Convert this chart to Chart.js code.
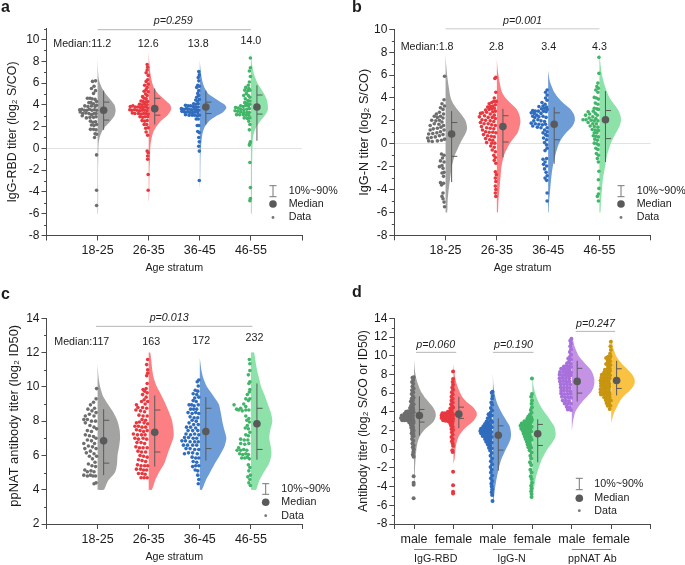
<!DOCTYPE html>
<html>
<head>
<meta charset="utf-8">
<title>Antibody titers</title>
<script src="https://cdn.jsdelivr.net/npm/chart.js@4"></script>
<style>
  html, body { margin: 0; padding: 0; background: #fff; }
  #page { position: relative; width: 685px; height: 565px; overflow: hidden; }
  canvas { position: absolute; }
</style>
</head>
<body>
<div id="page">
  <canvas id="chartA" width="343" height="282" style="left:0;top:0;width:343px;height:282px"></canvas>
  <canvas id="chartB" width="342" height="282" style="left:343px;top:0;width:342px;height:282px"></canvas>
  <canvas id="chartC" width="343" height="283" style="left:0;top:282px;width:343px;height:283px"></canvas>
  <canvas id="chartD" width="342" height="283" style="left:343px;top:282px;width:342px;height:283px"></canvas>
</div>
<script>
// ==================== data ====================
const ageStrata = ['18-25', '26-35', '36-45', '46-55'];
const sexLabels = ['male', 'female', 'male', 'female', 'male', 'female'];
const groupLabels = ['IgG-RBD', 'IgG-N', 'ppNAT Ab'];

const mediansA = [3.5, 3.65, 3.8, 3.8];
const p10A = [1.7, 2.2, 2.2, 0.7];
const p90A = [5.3, 5.5, 5.3, 5.8];
const q1A = [2.6, 3.05, 3.2, 3.15];
const q3A = [4.25, 4.6, 4.25, 4.9];
const medianTextA = ['Median:11.2', '12.6', '13.8', '14.0'];

const mediansB = [0.85, 1.5, 1.7, 2.1];
const p10B = [-3.35, -1.2, -1.75, -1.6];
const p90B = [2.85, 3.05, 3.2, 4.6];
const q1B = [-1.1, 0.15, 0.35, 0.45];
const q3B = [1.85, 2.45, 2.7, 2.9];
const medianTextB = ['Median:1.8', '2.8', '3.4', '4.3'];

const mediansC = [6.85, 7.35, 7.4, 7.85];
const p10C = [4.85, 5.35, 5.7, 5.75];
const p90C = [8.7, 9.5, 9.4, 10.2];
const q1C = [5.55, 6.2, 6.4, 6.35];
const q3C = [8.05, 8.65, 8.75, 8.75];
const medianTextC = ['Median:117', '163', '172', '232'];

const mediansD = [3.6, 3.75, 1.5, 1.65, 7.25, 7.35];
const p10D = [1.45, 2.25, -2.3, -1.4, 5.1, 5.75];
const p90D = [5.65, 5.6, 3.3, 3.2, 9.45, 9.45];
const q1D = [2.9, 3.3, -0.1, 0.4, 6, 6.5];
const q3D = [4.25, 4.5, 2.5, 2.65, 8.65, 8.6];

// violin outlines: titer, half width (in category units), top to bottom
const shapeA1 = [8.2,0,7,.01,6.2,.03,5.5,.09,5,.16,4.5,.25,4,.33,3.5,.353,3,.33,2.5,.25,2,.15,1.5,.08,1,.04,.5,.02,0,.015,-1,.012,-2,.008,-3,.008,-4,.01,-5,.01,-6,.008];
const shapeA2 = [8.9,0,8,.01,7,.03,6,.07,5.5,.11,5,.19,4.5,.31,4,.42,3.6,.44,3,.36,2.5,.23,2,.15,1.5,.09,1,.06,.5,.04,0,.03,-1,.025,-2,.015,-3,.012,-4,.01,-4.8,.005];
const shapeA3 = [8.1,0,7,.02,6,.06,5.5,.1,5,.17,4.5,.33,4,.49,3.7,.52,3.3,.45,3,.33,2.5,.18,2,.1,1.5,.06,1,.04,0,.02,-1,.012,-2,.01,-3,.008,-3.8,0];
const shapeA4 = [9,0,8,.015,7,.05,6,.13,5,.26,4.5,.31,4,.33,3.5,.33,3,.27,2.5,.18,2,.11,1.5,.065,1,.04,0,.03,-1,.025,-2,.02,-3,.02,-4,.02,-5,.018,-6,.015];
const shapeB1 = [7.8,0,7,.01,6,.03,5,.06,4,.1,3.5,.15,3,.23,2.5,.32,2,.39,1.4,.42,1,.4,.5,.34,0,.28,-.5,.23,-1,.18,-2,.12,-3,.09,-4,.06,-5,.04,-6,.03];
const shapeB2 = [7.4,0,6.5,.015,6,.03,5,.07,4.5,.1,4,.17,3.5,.28,3,.39,2.5,.44,1.9,.46,1,.41,.5,.33,0,.25,-.5,.19,-1,.14,-2,.09,-3,.07,-4,.05,-5,.03,-6,.02];
const shapeB3 = [6.4,0,5.5,.03,5,.07,4.5,.12,4,.2,3.5,.31,3,.44,2.5,.51,2,.52,1.5,.47,1,.36,.5,.27,0,.21,-.5,.17,-1,.14,-2,.09,-3,.06,-4,.04,-5,.02,-6,.01];
const shapeB4 = [8,0,7,.02,6,.05,5,.11,4,.2,3.5,.28,3,.36,2.5,.41,2,.42,1.5,.39,1,.33,.5,.27,0,.22,-1,.15,-2,.11,-3,.07,-4,.05,-5,.03,-6,.02];
const shapeC1 = [11.3,0,10.5,.02,10,.05,9.5,.1,9,.2,8.5,.31,8,.39,7.5,.43,7,.44,6.5,.42,6,.39,5.5,.38,5,.34,4.5,.2,4,.12];
const shapeC2 = [12,.03,11,.07,10.5,.1,10,.16,9.5,.25,9,.33,8.5,.4,8,.46,7.3,.49,7,.48,6.5,.42,6,.36,5.5,.3,5,.2,4.5,.12,4,.06];
const shapeC3 = [11.7,0,11,.03,10.5,.07,10,.14,9.5,.26,9,.37,8.5,.41,8,.44,7.5,.48,7,.52,6.5,.48,6,.39,5.5,.29,5,.2,4.5,.11,4,.04];
const shapeC4 = [12,.06,11.5,.09,11,.12,10.5,.16,10,.2,9.5,.27,9,.33,8.5,.39,8,.42,7.5,.38,7,.36,6.5,.39,6,.4,5.5,.35,5,.25,4.5,.16,4,.1];
const shapeD1 = [9.6,0,8.5,.02,7.5,.06,6.5,.14,6,.2,5.5,.28,5,.38,4.5,.48,4,.54,3.5,.55,3,.5,2.5,.38,2,.25,1.5,.16,1,.11,.5,.08,0,.06,-1,.04,-2,.025,-3,.015,-4,0];
const shapeD2 = [9.1,0,8,.03,7,.08,6,.17,5.5,.24,5,.35,4.5,.5,4,.58,3.6,.59,3,.5,2.5,.36,2,.24,1.5,.15,1,.1,.5,.07,0,.05,-1,.03,-1.6,0];
const shapeD3 = [8.2,0,7,.01,6,.04,5,.1,4,.21,3,.35,2.5,.42,2,.45,1.5,.46,1,.44,.5,.39,0,.33,-1,.22,-2,.15,-3,.1,-4,.06,-5,.03,-6,0];
const shapeD4 = [7.9,0,7,.02,6,.07,5,.16,4,.3,3.5,.39,3,.47,2.5,.55,2,.58,1.5,.59,1,.55,.5,.47,0,.38,-1,.25,-2,.16,-3,.09,-4,.05,-5,0];
const shapeD5 = [12,0,11.5,.04,11,.07,10,.17,9.5,.27,9,.37,8.5,.48,8,.54,7.5,.57,7,.57,6.5,.54,6,.47,5.5,.36,5,.25,4.5,.16,4,.09,3,.03,1.9,0];
const shapeD6 = [12,0,11,.04,10,.12,9.5,.2,9,.3,8.5,.42,8,.53,7.5,.59,7,.59,6.5,.52,6,.4,5.5,.28,5,.2,4.5,.14,4,.08,3.5,.04,2.8,0];

// data dots: offset left of the category, titer, offset, titer ...
const dotsA1 = [-.04,6.2,-.1,6.15,-.07,5.7,-.12,5.5,-.04,5.3,-.08,5.05,-.15,4.6,-.2,4.6,-.11,4.55,-.05,4.5,-.02,4.3,-.17,4.2,-.13,4.2,-.08,4.1,-.25,3.9,-.19,3.85,-.12,3.9,-.05,3.85,-.02,3.95,-.35,3.55,-.31,3.6,-.26,3.5,-.21,3.5,-.16,3.6,-.11,3.5,-.06,3.55,-.02,3.5,-.34,3.35,-.29,3.2,-.23,3.25,-.17,3.2,-.12,3.1,-.07,3.2,-.03,3.2,-.3,3,-.22,2.8,-.15,2.85,-.08,2.85,-.03,2.9,-.14,2.5,-.09,2.4,-.04,2.45,-.12,2.15,-.07,2.1,-.02,2.2,-.14,1.75,-.08,1.75,-.03,1.7,-.05,1.35,-.02,1.3,-.06,1,-.02,-.6,-.02,-3.85,-.02,-5.25];
const dotsA2 = [-.03,7.7,-.02,7.45,-.03,7.2,-.05,6.95,-.01,6.7,-.02,6.3,-.05,6.15,-.01,5.9,-.08,5.8,-.03,5.6,-.05,5.4,-.09,5.25,-.01,5.2,-.06,5,-.03,4.85,-.12,4.75,-.09,4.6,-.05,4.55,-.15,4.35,-.11,4.3,-.06,4.25,-.02,4.3,-.18,4.05,-.13,4,-.08,4.05,-.03,4,-.36,3.85,-.31,3.9,-.26,3.8,-.21,3.8,-.16,3.75,-.11,3.75,-.06,3.8,-.02,3.7,-.37,3.55,-.33,3.5,-.28,3.55,-.23,3.5,-.18,3.45,-.13,3.5,-.08,3.5,-.03,3.45,-.32,3.25,-.27,3.2,-.2,3.2,-.15,3.15,-.1,3.2,-.05,3.2,-.01,3.15,-.17,2.9,-.12,2.85,-.07,2.9,-.02,2.9,-.13,2.55,-.08,2.5,-.03,2.55,-.09,2.2,-.04,2.2,-.06,1.85,-.01,1.9,-.05,1.5,-.02,1.2,-.03,-.25,-.01,-.4,-.02,-.7,-.02,-1,-.01,-2.4,-.01,-3.85];
const dotsA3 = [-.02,7.05,-.01,6.75,-.03,6.5,-.02,6.2,-.04,5.8,-.01,5.7,-.06,5.6,-.02,5.3,-.04,5.05,-.02,4.85,-.06,4.7,-.01,4.5,-.08,4.45,-.04,4.3,-.12,4.1,-.08,4.05,-.03,4.1,-.28,3.95,-.23,3.9,-.18,3.9,-.13,3.85,-.08,3.8,-.03,3.8,-.36,3.65,-.31,3.6,-.26,3.65,-.21,3.6,-.16,3.55,-.11,3.6,-.06,3.55,-.02,3.5,-.35,3.4,-.3,3.35,-.24,3.35,-.19,3.3,-.14,3.3,-.09,3.35,-.04,3.3,-.28,3.1,-.21,3.05,-.15,3.05,-.1,3.05,-.05,3,-.01,3.05,-.07,2.7,-.03,2.7,-.05,2.1,-.02,2.1,-.04,1.55,-.01,1.45,-.02,1,-.01,.6,-.02,.2,-.01,-.25,-.01,-2.95];
const dotsA4 = [-.01,8.3,-.01,7.4,-.03,7.1,-.01,6.6,-.03,6.1,-.05,5.8,-.1,5.6,-.04,5.5,-.12,5.35,-.06,5.3,-.02,5.35,-.09,5.05,-.14,4.85,-.05,4.85,-.02,4.7,-.11,4.55,-.06,4.4,-.02,4.35,-.12,4.2,-.07,4.15,-.02,4.05,-.2,3.9,-.15,3.85,-.1,3.95,-.05,3.9,-.3,3.75,-.25,3.7,-.2,3.6,-.14,3.55,-.08,3.6,-.03,3.65,-.31,3.45,-.26,3.4,-.2,3.35,-.14,3.3,-.08,3.3,-.03,3.3,-.28,3.1,-.22,3.1,-.15,3.1,-.09,3.05,-.04,3.05,-.13,2.8,-.07,2.75,-.02,2.8,-.04,2.5,-.02,2.2,-.03,1.7,-.01,.6,-.02,.45,-.03,.3,-.02,-1.3,-.01,-3.6,-.01,-4.6,-.02,-4.8];
const dotsB1 = [-.02,5.9,-.03,3.85,-.07,3.5,-.02,3.3,-.1,3.15,-.05,3,-.12,2.75,-.18,2.6,-.04,2.6,-.1,2.4,-.16,2.3,-.22,2.4,-.05,2.25,-.12,2.05,-.19,2,-.27,2.05,-.07,1.9,-.13,1.7,-.22,1.75,-.3,1.6,-.04,1.6,-.09,1.45,-.16,1.35,-.24,1.3,-.3,1.2,-.03,1.2,-.1,1.05,-.17,.95,-.25,.9,-.33,.85,-.05,.8,-.12,.7,-.2,.6,-.28,.55,-.35,.5,-.02,.4,-.08,.3,-.16,.25,-.26,.2,-.33,.25,-.08,-.9,-.03,-1,-.06,-1.25,-.1,-1.5,-.03,-1.6,-.07,-1.9,-.12,-2,-.05,-2.15,-.03,-2.5,-.07,-2.55,-.04,-2.85,-.1,-3.4,-.06,-3.5,-.04,-3.45,-.08,-3.6,-.05,-4.3,-.07,-4.6,-.05,-4.8,-.03,-5.1,-.02,-5.5];
const dotsB2 = [-.02,5.8,-.04,5.7,-.02,4.5,-.05,4,-.01,3.7,-.06,3.7,-.1,3.6,-.15,3.5,-.03,3.4,-.08,3.3,-.13,3.25,-.18,3.2,-.05,3.1,-.1,3.05,-.15,3,-.22,2.95,-.03,2.85,-.08,2.8,-.2,2.75,-.28,2.7,-.32,2.65,-.13,2.6,-.05,2.5,-.24,2.45,-.34,2.35,-.17,2.3,-.09,2.3,-.03,2.2,-.29,2.1,-.22,2.05,-.13,2,-.06,1.95,-.32,1.85,-.25,1.75,-.17,1.75,-.1,1.65,-.03,1.6,-.3,1.5,-.2,1.4,-.13,1.35,-.06,1.3,-.28,1.2,-.22,1.05,-.15,1,-.08,1,-.02,.95,-.26,.8,-.18,.7,-.11,.65,-.05,.6,-.22,.45,-.14,.35,-.08,.3,-.2,.1,-.1,.05,-.04,.05,-.12,-.2,-.05,-.3,-.09,-.55,-.03,-.7,-.06,-1,-.03,-1.2,-.05,-1.45,-.02,-1.7,-.03,-2.45,-.01,-2.7,-.03,-3,-.02,-3.3,-.03,-3.7,-.02,-4,-.03,-4.3,-.02,-4.6];
const dotsB3 = [-.02,4.7,-.05,4.5,-.02,4.25,-.05,4,-.02,3.8,-.12,3.6,-.06,3.45,-.1,3.3,-.18,3.25,-.03,3.2,-.07,3.1,-.13,3.05,-.02,3,-.3,2.9,-.25,2.85,-.19,2.85,-.09,2.85,-.04,2.8,-.33,2.7,-.27,2.65,-.14,2.65,-.22,2.5,-.3,2.4,-.26,2.3,-.18,2.35,-.1,2.4,-.04,2.3,-.2,2.1,-.28,2,-.14,2,-.07,1.95,-.33,1.8,-.25,1.75,-.18,1.7,-.11,1.65,-.05,1.7,-.3,1.55,-.21,1.45,-.14,1.4,-.02,1.4,-.07,1.2,-.02,1.05,-.1,.95,-.05,.8,-.02,.7,-.09,.5,-.03,.35,-.07,.1,-.03,-.1,-.02,-.4,-.06,-.6,-.03,-1.3,-.1,-1.35,-.06,-1.6,-.09,-1.8,-.03,-1.95,-.07,-2.2,-.04,-2.5,-.02,-2.8,-.06,-3,-.03,-3.2,-.02,-4.3,-.02,-5];
const dotsB4 = [-.01,7.55,-.01,6.15,-.03,5.3,-.05,5,-.02,4.85,-.07,4.7,-.03,4.5,-.1,4.05,-.06,4,-.02,3.9,-.08,3.55,-.03,3.45,-.1,3.1,-.05,3.05,-.02,3,-.12,2.85,-.22,2.8,-.08,2.65,-.19,2.6,-.27,2.5,-.04,2.5,-.13,2.35,-.2,2.25,-.07,2.2,-.32,2.1,-.26,2.1,-.16,2.05,-.1,2,-.03,2,-.22,1.85,-.13,1.75,-.06,1.75,-.18,1.55,-.1,1.5,-.03,1.45,-.14,1.25,-.08,1.2,-.02,1.15,-.1,.95,-.05,.95,-.12,.7,-.07,.65,-.02,.6,-.09,.4,-.04,.3,-.1,.05,-.05,0,-.02,-.1,-.07,-.4,-.03,-.5,-.06,-.85,-.02,-1,-.04,-1.3,-.02,-1.6,-.01,-2.4,-.02,-3.15,-.01,-3.9,-.02,-4.4,-.04,-4.6,-.02,-5];
const dotsC1 = [-.02,9.9,-.03,9.3,-.08,9.1,-.14,8.95,-.06,8.75,-.19,8.7,-.11,8.6,-.03,8.5,-.16,8.4,-.24,8.3,-.07,8.3,-.27,8.1,-.2,8.1,-.12,8,-.04,8,-.24,7.9,-.15,7.75,-.07,7.65,-.02,7.55,-.2,7.45,-.12,7.4,-.24,7.2,-.16,7.15,-.08,7.1,-.03,7,-.2,6.9,-.12,6.85,-.27,6.7,-.06,6.7,-.18,6.55,-.1,6.5,-.25,6.4,-.03,6.4,-.14,6.25,-.22,6.15,-.07,6.1,-.16,5.95,-.02,5.95,-.1,5.8,-.05,5.6,-.18,5.5,-.11,5.4,-.04,5.35,-.25,5.15,-.2,5.05,-.13,5.1,-.07,5.05,-.27,4.85,-.2,4.8,-.14,4.85,-.09,4.8,-.04,4.8,-.03,4.4,-.07,4.35];
const dotsC2 = [-.02,11.6,-.04,11.3,-.02,11,-.02,10.8,-.04,10.65,-.03,10.2,-.05,9.9,-.11,9.85,-.08,9.75,-.03,9.65,-.12,9.55,-.05,9.4,-.09,9.25,-.14,9.15,-.02,9.15,-.24,8.95,-.07,9,-.21,8.8,-.12,8.8,-.04,8.75,-.25,8.65,-.16,8.6,-.08,8.55,-.19,8.35,-.11,8.3,-.03,8.3,-.13,8.1,-.06,8.05,-.24,7.9,-.18,7.95,-.09,7.9,-.02,7.85,-.27,7.7,-.2,7.7,-.13,7.65,-.06,7.65,-.24,7.5,-.17,7.45,-.1,7.4,-.03,7.45,-.3,7.25,-.22,7.2,-.14,7.2,-.07,7.2,-.27,7,-.2,6.95,-.11,7,-.04,6.95,-.23,6.75,-.15,6.75,-.08,6.7,-.25,6.5,-.18,6.45,-.11,6.45,-.03,6.45,-.21,6.25,-.14,6.2,-.06,6.2,-.17,6,-.1,5.95,-.03,5.9,-.2,5.75,-.13,5.7,-.06,5.65,-.22,5.45,-.15,5.4,-.08,5.4,-.02,5.4,-.24,5.2,-.16,5.2,-.1,5.15,-.04,5.15,-.2,4.95,-.13,4.95,-.07,4.9,-.15,4.7,-.09,4.7,-.03,4.7];
const dotsC3 = [-.02,10.4,-.05,10.3,-.03,10.05,-.09,9.8,-.04,9.75,-.13,9.6,-.06,9.55,-.1,9.35,-.02,9.4,-.13,9.2,-.07,9.15,-.21,8.95,-.16,8.95,-.11,8.9,-.03,8.95,-.18,8.7,-.12,8.7,-.06,8.7,-.23,8.5,-.15,8.45,-.08,8.5,-.02,8.45,-.19,8.25,-.11,8.2,-.04,8.2,-.15,8.05,-.07,8,-.21,7.9,-.12,7.8,-.03,7.8,-.26,7.65,-.18,7.65,-.08,7.6,-.23,7.45,-.14,7.45,-.04,7.45,-.27,7.25,-.18,7.2,-.1,7.25,-.02,7.2,-.3,7.05,-.22,7.05,-.13,7,-.06,7,-.35,6.85,-.28,6.85,-.19,6.8,-.1,6.8,-.03,6.8,-.32,6.6,-.24,6.6,-.14,6.6,-.06,6.6,-.27,6.4,-.19,6.4,-.1,6.35,-.02,6.35,-.3,6.1,-.22,6.15,-.14,6.15,-.05,6.1,-.15,5.9,-.08,5.85,-.02,5.85,-.13,5.65,-.06,5.6,-.14,5.35,-.08,5.4,-.02,5.4,-.09,5.15,-.04,5.1,-.04,4.85,-.02,4.6,-.03,4.35];
const dotsC4 = [-.03,11.6,-.02,11.35,-.02,10.95,-.05,10.7,-.02,10.3,-.04,10.2,-.02,9.85,-.03,9.7,-.07,9.55,-.02,9.3,-.1,9.3,-.05,9.2,-.33,8.95,-.14,9,-.1,8.85,-.2,8.75,-.28,8.7,-.24,8.65,-.17,8.6,-.1,8.65,-.04,8.65,-.1,8.3,-.04,8.15,-.08,8.05,-.03,7.95,-.07,7.75,-.11,7.6,-.05,7.55,-.02,7.35,-.1,7.2,-.05,7.15,-.2,6.95,-.13,6.9,-.06,6.9,-.2,6.7,-.12,6.65,-.04,6.7,-.24,6.45,-.27,6.3,-.2,6.3,-.14,6.35,-.08,6.3,-.22,6.1,-.16,6.05,-.1,6.1,-.05,6.05,-.18,5.85,-.12,5.85,-.07,5.9,-.03,5.8,-.05,5.45,-.02,5.3,-.04,5.1,-.01,4.85,-.06,4.75,-.02,4.6,-.04,4.4,-.01,4.25];
const dotsD1 = [-.01,7.7,-.04,7.65,-.02,7.4,-.05,7.2,-.02,7,-.04,6.7,-.01,6.5,-.05,6.3,-.02,6.1,-.06,5.9,-.03,5.7,-.01,5.5,-.06,5.4,-.03,5.2,-.08,5.1,-.04,4.9,-.01,4.8,-.07,4.7,-.03,4.5,-.1,4.4,-.06,4.25,-.02,4.25,-.2,4,-.15,4.05,-.1,4,-.05,4,-.01,3.95,-.24,3.8,-.18,3.8,-.12,3.8,-.06,3.8,-.31,3.6,-.26,3.6,-.2,3.55,-.14,3.6,-.08,3.6,-.03,3.6,-.33,3.35,-.27,3.35,-.21,3.35,-.15,3.35,-.09,3.35,-.03,3.35,-.3,3.1,-.24,3.1,-.18,3.1,-.12,3.15,-.06,3.1,-.02,3.1,-.12,2.85,-.06,2.85,-.01,2.85,-.08,2.6,-.03,2.6,-.07,2.3,-.02,2.3,-.05,2,-.01,2,-.06,1.7,-.02,1.7,-.04,1.4,-.01,1.4,-.05,1.1,-.02,.9,-.04,.6,-.01,.4,-.03,.2,-.01,0,-.02,-.3,-.03,-.6,-.01,-.8,-.01,-2.9,-.01,-3.6,-.01,-3.8,-.01,-5.25];
const dotsD2 = [-.01,8.3,-.01,7.5,-.02,7.2,-.01,6.9,-.03,6.6,-.01,6.35,-.04,6.1,-.02,5.85,-.05,5.6,-.02,5.4,-.05,5.2,-.02,5,-.06,4.8,-.03,4.6,-.01,4.45,-.08,4.35,-.04,4.2,-.14,4,-.09,4,-.04,3.95,-.28,3.85,-.22,3.85,-.16,3.8,-.1,3.8,-.05,3.75,-.01,3.7,-.3,3.6,-.24,3.6,-.18,3.55,-.12,3.55,-.06,3.5,-.02,3.5,-.3,3.35,-.24,3.3,-.18,3.3,-.12,3.3,-.06,3.25,-.01,3.25,-.26,3.1,-.2,3.05,-.13,3,-.07,3,-.02,3,-.08,2.75,-.03,2.75,-.06,2.5,-.02,2.4,-.05,2.15,-.01,2.05,-.04,1.8,-.02,1.55,-.05,1.3,-.02,1.1,-.04,.85,-.02,.6,-.01,.35,-.03,-.1,-.02,-.3,-.01,-2.4,-.01,-3.85,-.01,-4.55,-.01,-4.75];
const dotsD3 = [-.01,6.15,-.03,6.05,-.01,5.7,-.02,5.4,-.04,5,-.02,4.75,-.05,4.4,-.02,4.15,-.06,3.9,-.11,3.75,-.03,3.6,-.08,3.4,-.13,3.3,-.05,3.1,-.16,2.95,-.1,2.9,-.02,2.9,-.2,2.7,-.13,2.65,-.06,2.6,-.24,2.45,-.17,2.4,-.1,2.4,-.03,2.35,-.3,2.2,-.22,2.2,-.14,2.15,-.07,2.15,-.32,1.95,-.26,1.95,-.18,1.9,-.1,1.9,-.04,1.85,-.3,1.7,-.22,1.65,-.14,1.65,-.06,1.6,-.26,1.4,-.19,1.35,-.11,1.35,-.03,1.3,-.2,1.1,-.13,1.05,-.06,1,-.17,.8,-.09,.75,-.03,.7,-.13,.5,-.06,.4,-.1,.15,-.03,.1,-.07,-.15,-.03,-.4,-.06,-.7,-.02,-1,-.05,-1.3,-.02,-1.6,-.06,-1.9,-.03,-2.2,-.05,-2.5,-.02,-2.8,-.05,-3.1,-.02,-3.4,-.04,-3.7,-.03,-4,-.02,-4.3,-.03,-4.6,-.02,-4.9,-.01,-5.55];
const dotsD4 = [-.01,7.55,-.01,5.9,-.03,5.6,-.01,5.2,-.02,4.85,-.01,4.5,-.04,4.2,-.02,3.9,-.06,3.7,-.1,3.5,-.03,3.45,-.13,3.25,-.07,3.2,-.01,3.15,-.2,3,-.14,2.95,-.08,2.95,-.03,2.9,-.27,2.75,-.2,2.7,-.13,2.7,-.06,2.65,-.3,2.5,-.23,2.45,-.15,2.45,-.08,2.4,-.02,2.4,-.28,2.2,-.2,2.2,-.12,2.15,-.05,2.15,-.24,1.95,-.17,1.9,-.1,1.9,-.03,1.9,-.22,1.65,-.15,1.65,-.07,1.6,-.19,1.35,-.11,1.35,-.04,1.3,-.17,1.1,-.09,1.05,-.02,1,-.14,.8,-.07,.75,-.12,.5,-.05,.45,-.1,.2,-.03,.15,-.07,-.1,-.02,-.35,-.05,-.7,-.03,-1,-.06,-1.4,-.03,-1.7,-.05,-2.2,-.02,-2.5,-.04,-2.9,-.02,-3.2,-.01,-3.6,-.03,-3.9,-.02,-4.2,-.03,-4.5,-.02,-4.8,-.02,-5.1];
const dotsD5 = [-.01,11.8,-.04,11.6,-.02,11.3,-.04,11,-.02,10.7,-.05,10.4,-.02,10.1,-.05,9.85,-.09,9.7,-.02,9.6,-.07,9.35,-.12,9.2,-.03,9.15,-.2,8.85,-.14,8.9,-.08,8.85,-.02,8.8,-.27,8.6,-.2,8.55,-.13,8.55,-.06,8.5,-.3,8.25,-.22,8.25,-.15,8.2,-.08,8.2,-.02,8.2,-.31,7.95,-.24,7.9,-.16,7.9,-.09,7.9,-.03,7.9,-.31,7.6,-.23,7.6,-.15,7.6,-.07,7.6,-.3,7.25,-.22,7.3,-.14,7.25,-.06,7.25,-.28,6.95,-.2,6.95,-.12,6.95,-.04,6.9,-.28,6.6,-.2,6.6,-.12,6.6,-.05,6.55,-.27,6.25,-.2,6.3,-.12,6.25,-.04,6.2,-.27,5.95,-.19,5.9,-.11,5.9,-.03,5.9,-.25,5.6,-.17,5.55,-.09,5.55,-.02,5.5,-.23,5.2,-.15,5.2,-.07,5.15,-.18,4.9,-.1,4.85,-.02,4.85,-.13,4.55,-.05,4.5,-.1,4.25,-.02,4.2];
const dotsD6 = [-.01,11.5,-.02,11,-.01,10.6,-.03,10.2,-.02,9.95,-.08,9.9,-.13,9.75,-.04,9.7,-.09,9.45,-.03,9.4,-.07,9.2,-.13,9.1,-.02,9,-.08,8.85,-.04,8.65,-.1,8.55,-.16,8.5,-.03,8.4,-.18,8.2,-.11,8.2,-.05,8.2,-.24,7.95,-.17,7.9,-.1,7.9,-.03,7.9,-.25,7.65,-.18,7.6,-.11,7.6,-.04,7.6,-.27,7.35,-.2,7.3,-.13,7.3,-.06,7.3,-.26,7.05,-.19,7,-.12,7,-.05,7,-.26,6.75,-.19,6.7,-.12,6.7,-.05,6.7,-.27,6.4,-.2,6.4,-.13,6.4,-.06,6.4,-.27,6.1,-.19,6.1,-.12,6.1,-.05,6.1,-.26,5.85,-.19,5.85,-.11,5.85,-.04,5.85,-.18,5.55,-.11,5.55,-.04,5.55,-.14,5.25,-.07,5.25,-.01,5.2,-.12,4.95,-.05,4.95,-.09,4.65,-.02,4.65,-.04,4.3];

// ==================== colours ====================
const GRAY = { fill: '#a3a3a1', dot: '#6e6e6e' };
const RED = { fill: '#fb7f83', dot: '#e8383f' };
const BLUE = { fill: '#6d9cd6', dot: '#2f6cbd' };
const GREEN = { fill: '#8ce2a8', dot: '#41b568' };
const PURPLE = { fill: '#c493e6', dot: '#a870dc' };
const GOLD = { fill: '#f9c242', dot: '#c8950f' };
const MARK = '#5a5a5a';
const INK = '#1c1c1c';
const AXIS = '#4a4a4a';

Chart.defaults.font.family = '"Liberation Sans", Arial, sans-serif';
Chart.defaults.color = INK;

// flat list -> [[a, b], ...]
function pairs(list) {
    const out = [];
    for (let i = 0; i < list.length; i += 2) out.push([list[i], list[i + 1]]);
    return out;
}

function line(points, color, width, order) {
    return {
        data: points.map(p => ({ x: p[0], y: p[1] })),
        showLine: true, borderColor: color, borderWidth: width,
        pointRadius: 0, order: order, clip: false
    };
}

// half violin + dots + whisker + median for every group of a panel
function groupDatasets(s) {
    const sets = [];
    s.shapes.forEach((shape, i) => {
        const c = i + 1;
        const knots = pairs(shape);
        const outline = [{ x: c, y: knots[0][0] }]
            .concat(knots.map(k => ({ x: c + k[1], y: k[0] })))
            .concat([{ x: c, y: knots[knots.length - 1][0] }]);
        sets.push({
            data: outline, showLine: true, fill: 'shape', tension: 0.25,
            backgroundColor: s.colors[i].fill, borderWidth: 0, pointRadius: 0, order: 40, clip: false
        });
        sets.push({
            data: pairs(s.dots[i]).map(d => ({ x: c + d[0], y: d[1] })),
            showLine: false, pointRadius: s.dotSize, pointBorderWidth: 0,
            pointBackgroundColor: s.colors[i].dot, order: 30, clip: false
        });
        const mx = c + s.offset;
        sets.push(line([[mx, s.p10[i]], [mx, s.p90[i]]], MARK, 1, 20));
        sets.push(line([[mx, s.q1[i]], [mx + s.arm, s.q1[i]]], MARK, 1, 20));
        sets.push(line([[mx, s.q3[i]], [mx + s.arm, s.q3[i]]], MARK, 1, 20));
        sets.push({
            data: [{ x: mx, y: s.med[i] }], showLine: false, pointRadius: 3.8, pointBorderWidth: 0,
            pointBackgroundColor: MARK, order: 10, clip: false
        });
    });
    return sets;
}

function textAt(ctx, text, x, y, font, align) {
    ctx.font = font;
    ctx.fillStyle = INK;
    ctx.textAlign = align || 'center';
    ctx.textBaseline = 'middle';
    ctx.fillText(text, x, y);
}

// minor ticks, panel letter, median labels, p values, legend, group labels
const extras = {
    id: 'extras',
    afterDraw(chart, args, o) {
        const ctx = chart.ctx, xs = chart.scales.x, ys = chart.scales.y;
        ctx.save();
        ctx.strokeStyle = AXIS;
        ctx.lineWidth = 1;
        for (let v = ys.min + 1; v <= ys.max; v += 2) {
            const py = Math.round(ys.getPixelForValue(v)) + 0.5;
            ctx.beginPath();
            ctx.moveTo(xs.left, py);
            ctx.lineTo(xs.left - 2.5, py);
            ctx.stroke();
        }
        textAt(ctx, o.letter, o.letterPos[0], o.letterPos[1], 'bold 16px "Liberation Sans"', 'left');
        (o.medianText || []).forEach((t, i) => {
            textAt(ctx, t, xs.getPixelForValue(o.medianX[i]), ys.getPixelForValue(o.medianY[i]), '10.7px "Liberation Sans"');
        });
        o.pText.forEach((t, i) => {
            textAt(ctx, t, xs.getPixelForValue(o.pX[i]), ys.getPixelForValue(o.pY[i]), 'italic 10.7px "Liberation Sans"');
        });
        const lg = o.legend;
        ctx.strokeStyle = '#777';
        ctx.beginPath();
        ctx.moveTo(lg.x - 3.5, lg.top); ctx.lineTo(lg.x + 3.5, lg.top);
        ctx.moveTo(lg.x - 3.5, lg.bottom); ctx.lineTo(lg.x + 3.5, lg.bottom);
        ctx.moveTo(lg.x, lg.top); ctx.lineTo(lg.x, lg.bottom);
        ctx.stroke();
        ctx.fillStyle = MARK;
        ctx.beginPath(); ctx.arc(lg.x, lg.median, 3.8, 0, 7); ctx.fill();
        ctx.fillStyle = '#777';
        ctx.beginPath(); ctx.arc(lg.x, lg.data, 1.4, 0, 7); ctx.fill();
        const f = '10.7px "Liberation Sans"';
        textAt(ctx, '10%~90%', lg.text, lg.first, f, 'left');
        textAt(ctx, 'Median', lg.text, lg.median, f, 'left');
        textAt(ctx, 'Data', lg.text, lg.data, f, 'left');
        if (o.groups) {
            ctx.strokeStyle = '#888';
            o.groups.forEach((t, i) => {
                const a = xs.getPixelForValue(i * 2 + 1), b = xs.getPixelForValue(i * 2 + 2);
                ctx.beginPath(); ctx.moveTo(a, 267.5); ctx.lineTo(b, 267.5); ctx.stroke();
                textAt(ctx, t, xs.getPixelForValue(o.groupX[i]), 277, f);
            });
        }
        ctx.restore();
    }
};

function drawPanel(id, p) {
    return new Chart(document.getElementById(id), {
        type: 'scatter',
        data: { datasets: p.sets },
        plugins: [extras],
        options: {
            responsive: false,
            animation: false,
            events: [],
            layout: { padding: { left: p.padLeft, right: p.padRight, top: p.top, bottom: p.padBottom } },
            plugins: { legend: { display: false }, tooltip: { enabled: false }, extras: p.extras },
            scales: {
                x: {
                    type: 'linear', min: p.xMin, max: p.xMax,
                    afterFit: s => { s.height = p.xHeight; },
                    afterBuildTicks: s => { s.ticks = p.xTicks.map(v => ({ value: v })); },
                    border: { color: AXIS, width: 1 },
                    grid: { drawOnChartArea: false, tickLength: 5, tickColor: AXIS },
                    ticks: {
                        autoSkip: false, maxRotation: 0, padding: 3, color: INK, font: { size: 12.5 },
                        callback: v => p.xLabels[v - 1] || ''
                    },
                    title: p.xTitle
                        ? { display: true, text: p.xTitle, font: { size: 10.7 }, color: INK, padding: 0 }
                        : { display: false }
                },
                y: {
                    min: p.yMin, max: p.yMax,
                    afterFit: s => { s.width = p.yWidth; },
                    border: { color: AXIS, width: 1 },
                    grid: {
                        tickLength: 5, tickColor: AXIS,
                        color: c => (p.zeroLine && c.tick.value === 0 ? '#e2e2e2' : 'rgba(0,0,0,0)')
                    },
                    ticks: { stepSize: 2, includeBounds: false, padding: 2, color: INK, font: { size: 12 } },
                    title: { display: true, text: p.yTitle, font: { size: p.yTitleSize }, color: INK, padding: 0 }
                }
            }
        }
    });
}

const ageColors = [GRAY, RED, BLUE, GREEN];
const ageTicks = [0, 1, 2, 3, 4, 5];

drawPanel('chartA', {
    sets: groupDatasets({
        shapes: [shapeA1, shapeA2, shapeA3, shapeA4], dots: [dotsA1, dotsA2, dotsA3, dotsA4],
        med: mediansA, p10: p10A, p90: p90A, q1: q1A, q3: q3A, colors: ageColors,
        offset: 0.118, arm: 0.11, dotSize: 1.8
    }).concat([line([[1, 10.9], [4, 10.9]], '#b5b5b5', 1, 50)]),
    padLeft: 5.5, padRight: 41, padBottom: 8, top: 28.6, xHeight: 38.5, yWidth: 41,
    xMin: 0, xMax: 5, xTicks: ageTicks, xLabels: ageStrata, xTitle: 'Age stratum',
    yMin: -8, yMax: 11, yTitle: 'IgG-RBD titer (log₂ S/CO)', yTitleSize: 12.4, zeroLine: true,
    extras: {
        letter: 'a', letterPos: [1, 8],
        medianText: medianTextA, medianX: [.7, 1.99, 2.97, 4], medianY: [9.59, 9.59, 9.59, 9.86],
        pText: ['p=0.259'], pX: [2.48], pY: [11.65],
        legend: { x: 273, top: 185.7, bottom: 196.7, first: 190.7, median: 204, data: 217.5, text: 288.7 }
    }
});

drawPanel('chartB', {
    sets: groupDatasets({
        shapes: [shapeB1, shapeB2, shapeB3, shapeB4], dots: [dotsB1, dotsB2, dotsB3, dotsB4],
        med: mediansB, p10: p10B, p90: p90B, q1: q1B, q3: q3B, colors: ageColors,
        offset: 0.118, arm: 0.11, dotSize: 1.8
    }).concat([line([[1, 10.05], [4, 10.05]], '#dcdcdc', 1.5, 50)]),
    padLeft: 14, padRight: 34.3, padBottom: 8, top: 29.3, xHeight: 38.7, yWidth: 37.3,
    xMin: 0, xMax: 5, xTicks: ageTicks, xLabels: ageStrata, xTitle: 'Age stratum',
    yMin: -8, yMax: 10, yTitle: 'IgG-N titer (log₂ S/CO)', yTitleSize: 12.7, zeroLine: true,
    extras: {
        letter: 'b', letterPos: [9, 8],
        medianText: medianTextB, medianX: [.64, 1.99, 3.01, 4], medianY: [8.48, 8.48, 8.48, 8.48],
        pText: ['p=0.001'], pX: [2.5], pY: [10.75],
        legend: { x: 278, top: 185.7, bottom: 196.7, first: 191, median: 204, data: 217.5, text: 293.7 }
    }
});

drawPanel('chartC', {
    sets: groupDatasets({
        shapes: [shapeC1, shapeC2, shapeC3, shapeC4], dots: [dotsC1, dotsC2, dotsC3, dotsC4],
        med: mediansC, p10: p10C, p90: p90C, q1: q1C, q3: q3C, colors: ageColors,
        offset: 0.118, arm: 0.11, dotSize: 1.8
    }).concat([line([[.97, 13.53], [4.03, 13.53]], '#b5b5b5', 1, 50)]),
    padLeft: 6.8, padRight: 41, padBottom: 2, top: 36.3, xHeight: 39, yWidth: 39.7,
    xMin: 0, xMax: 5, xTicks: ageTicks, xLabels: ageStrata, xTitle: 'Age stratum',
    yMin: 2, yMax: 14, yTitle: '   ppNAT antibody titer (log₂ ID50)', yTitleSize: 12.9, zeroLine: false,
    extras: {
        letter: 'c', letterPos: [1, 13],
        medianText: medianTextC, medianX: [.69, 2.05, 3.03, 4.07], medianY: [12.62, 12.62, 12.7, 12.85],
        pText: ['p=0.013'], pX: [2.4], pY: [14],
        legend: { x: 265.7, top: 201.7, bottom: 212.3, first: 207.3, median: 220.3, data: 233.7, text: 281.3 }
    }
});

drawPanel('chartD', {
    sets: groupDatasets({
        shapes: [shapeD1, shapeD2, shapeD3, shapeD4, shapeD5, shapeD6],
        dots: [dotsD1, dotsD2, dotsD3, dotsD4, dotsD5, dotsD6],
        med: mediansD, p10: p10D, p90: p90D, q1: q1D, q3: q3D,
        colors: [GRAY, RED, BLUE, GREEN, PURPLE, GOLD],
        offset: 0.136, arm: 0.13, dotSize: 2
    }).concat([
        line([[1.05, 10.36], [2.07, 10.36]], '#b5b5b5', 1, 50),
        line([[3, 10.36], [4.03, 10.36]], '#b5b5b5', 1, 50),
        line([[5.1, 12.6], [6.1, 12.6]], '#b5b5b5', 1, 50)
    ]),
    padLeft: 13, padRight: 34.3, padBottom: 2, top: 36.3, xHeight: 39, yWidth: 38.3,
    xMin: 0.5, xMax: 7, xTicks: [0.5, 1, 2, 3, 4, 5, 6, 7], xLabels: sexLabels, xTitle: null,
    yMin: -8, yMax: 14, yTitle: 'Antibody titer (log₂ S/CO or ID50)', yTitleSize: 12.3, zeroLine: false,
    extras: {
        letter: 'd', letterPos: [9, 11],
        pText: ['p=0.060', 'p=0.190', 'p=0.247'], pX: [1.55, 3.52, 5.6], pY: [11.1, 11.1, 13.35],
        legend: { x: 236.3, top: 196.3, bottom: 207.7, first: 202.3, median: 216.3, data: 228.7, text: 251.3 },
        groups: groupLabels, groupX: [1.55, 3.47, 5.52]
    }
});
</script>
</body>
</html>
